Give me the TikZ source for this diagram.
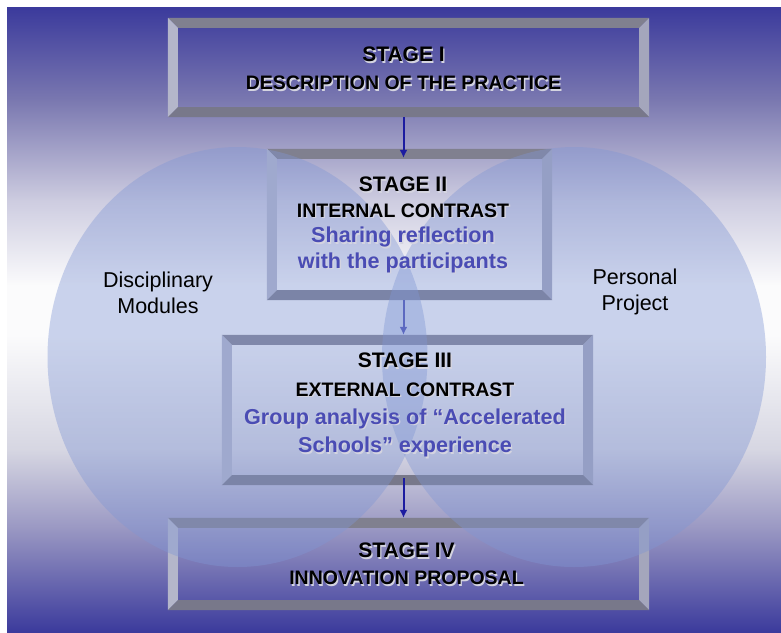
\documentclass[tikz,border=0pt]{standalone}
\usepackage{fontspec}
\setmainfont{Liberation Sans}
\usetikzlibrary{arrows.meta,positioning,calc}

\definecolor{bgblue}{HTML}{3B3A9C}
\definecolor{bgA}{HTML}{7A78B0}
\definecolor{bgB}{HTML}{CDCCE0}
\definecolor{bgmid}{HTML}{FBFBFC}
\definecolor{bgC}{HTML}{D6D6E2}
\definecolor{bgD}{HTML}{9896C2}
\definecolor{bevtop}{HTML}{80808F}
\definecolor{bevleft}{HTML}{B4B6CA}
\definecolor{bevright}{HTML}{A4A6BC}
\definecolor{bevbottom}{HTML}{78788A}
\definecolor{circblue}{HTML}{8096D4}
\definecolor{flowblue}{HTML}{1C1CA0}
\definecolor{textblue}{HTML}{4A4CB4}
\definecolor{textshade}{HTML}{D4D4E0}

\pgfdeclarelayer{backdrop}
\pgfdeclarelayer{veil}
\pgfsetlayers{backdrop,veil,main}

% text with a light drop shadow
\newcommand{\embossed}[1]{\makebox[0pt][l]{\kern1.3pt\raisebox{-1.3pt}{\textcolor{textshade}{#1}}}#1}

% four bevelled faces round a stage frame
\newcommand{\bevel}[1]{%
  \fill[topface] (#1.north west) -- (#1.north east) -- ($(#1.north east)+(-10,10)$) -- ($(#1.north west)+(10,10)$) -- cycle;
  \fill[leftface] (#1.north west) -- ($(#1.north west)+(10,10)$) -- ($(#1.south west)+(10,-10)$) -- (#1.south west) -- cycle;
  \fill[rightface] (#1.north east) -- ($(#1.north east)+(-10,10)$) -- ($(#1.south east)+(-10,-10)$) -- (#1.south east) -- cycle;
  \fill[bottomface] (#1.south west) -- ($(#1.south west)+(10,-10)$) -- ($(#1.south east)+(-10,-10)$) -- (#1.south east) -- cycle;
}

\begin{document}
\begin{tikzpicture}[x=1pt,y=-1pt,>=Latex,
  stage/.style={inner sep=0pt, draw=none},
  topface/.style={fill=bevtop},
  leftface/.style={fill=bevleft},
  rightface/.style={fill=bevright},
  bottomface/.style={fill=bevbottom},
  stagetext/.style={inner sep=0pt, anchor=north, align=center, font=\bfseries\fontsize{21}{#1}\selectfont},
  sidetext/.style={inner sep=0pt, anchor=north, align=center, font=\fontsize{21.5}{26}\selectfont},
  flow/.style={-{Latex[length=8pt,width=8pt]}, line width=2pt, draw=flowblue},
  bubble/.style={fill=circblue, fill opacity=0.4}]
  \useasboundingbox (0,0) rectangle (781,632);

  % background bands
  \begin{pgfonlayer}{backdrop}
    \foreach \ya/\yb/\ca/\cb in {7/100/bgblue/bgA, 100/200/bgA/bgB, 200/285/bgB/bgmid,
        285/335/bgmid/bgmid, 335/450/bgmid/bgC, 450/530/bgC/bgD, 530/632/bgD/bgblue}
      \shade[top color=\ca, bottom color=\cb] (7,\ya) rectangle (781,\yb+0.6);
  \end{pgfonlayer}

  % stage frames
  \begin{pgfonlayer}{backdrop}
    \node[stage, minimum width=481pt, minimum height=99pt] (s1) at (408.5,67.5) {};
    \node[stage, minimum width=285pt, minimum height=151pt] (s2) at (409.5,224.5) {};
    \node[stage, minimum width=371pt, minimum height=150pt] (s3) at (407.5,410) {};
    \node[stage, minimum width=481pt, minimum height=92pt] (s4) at (408.5,564) {};
    \bevel{s1}
    \bevel{s2}
    \bevel{s3}
    \bevel{s4}
  \end{pgfonlayer}

  % stage texts
  \node[stagetext=28] (t1) at (403.5,47)
    {\embossed{STAGE I}\\{\fontsize{19.5}{28}\selectfont\embossed{DESCRIPTION OF THE PRACTICE}}};
  \node[stagetext=25.5] (t2) at (403,177)
    {\embossed{STAGE II}\\{\fontsize{19.5}{25.5}\selectfont\embossed{INTERNAL CONTRAST}}\\
     {\fontsize{21.6}{25.5}\selectfont\color{textblue}\embossed{Sharing reflection}}\\
     {\fontsize{21.6}{25.5}\selectfont\color{textblue}\embossed{with the participants}}};
  \node[stagetext=28.3] (t3) at (405,353)
    {\embossed{STAGE III}\\{\fontsize{19.5}{28.3}\selectfont\embossed{EXTERNAL CONTRAST}}\\
     {\fontsize{21.6}{28.3}\selectfont\color{textblue}\embossed{Group analysis of “Accelerated}}\\
     {\fontsize{21.6}{28.3}\selectfont\color{textblue}\embossed{Schools” experience}}};
  \node[stagetext=27] (t4) at (406.5,543)
    {\embossed{STAGE IV}\\{\fontsize{19.5}{27}\selectfont\embossed{INNOVATION PROPOSAL}}};

  % arrows between stages
  \begin{pgfonlayer}{backdrop}
    \draw[flow] (s1.south -| t1) -- ([yshift=-9pt]s2.north -| t1);
    \draw[flow] (s2.south -| t1) -- (s3.north -| t1);
    \draw[flow] ([yshift=7pt]s3.south -| t1) -- (s4.north -| t1);
  \end{pgfonlayer}

  % the two overlapping fields
  \begin{pgfonlayer}{veil}
    \fill[bubble] (237.5,357) ellipse (190pt and 210pt);
    \fill[bubble] (574,357) ellipse (192pt and 210pt);
  \end{pgfonlayer}

  \node[sidetext] (dm) at (158,272) {Disciplinary\\Modules};
  \node[sidetext] (pp) at (635,269) {Personal\\Project};
\end{tikzpicture}
\end{document}
